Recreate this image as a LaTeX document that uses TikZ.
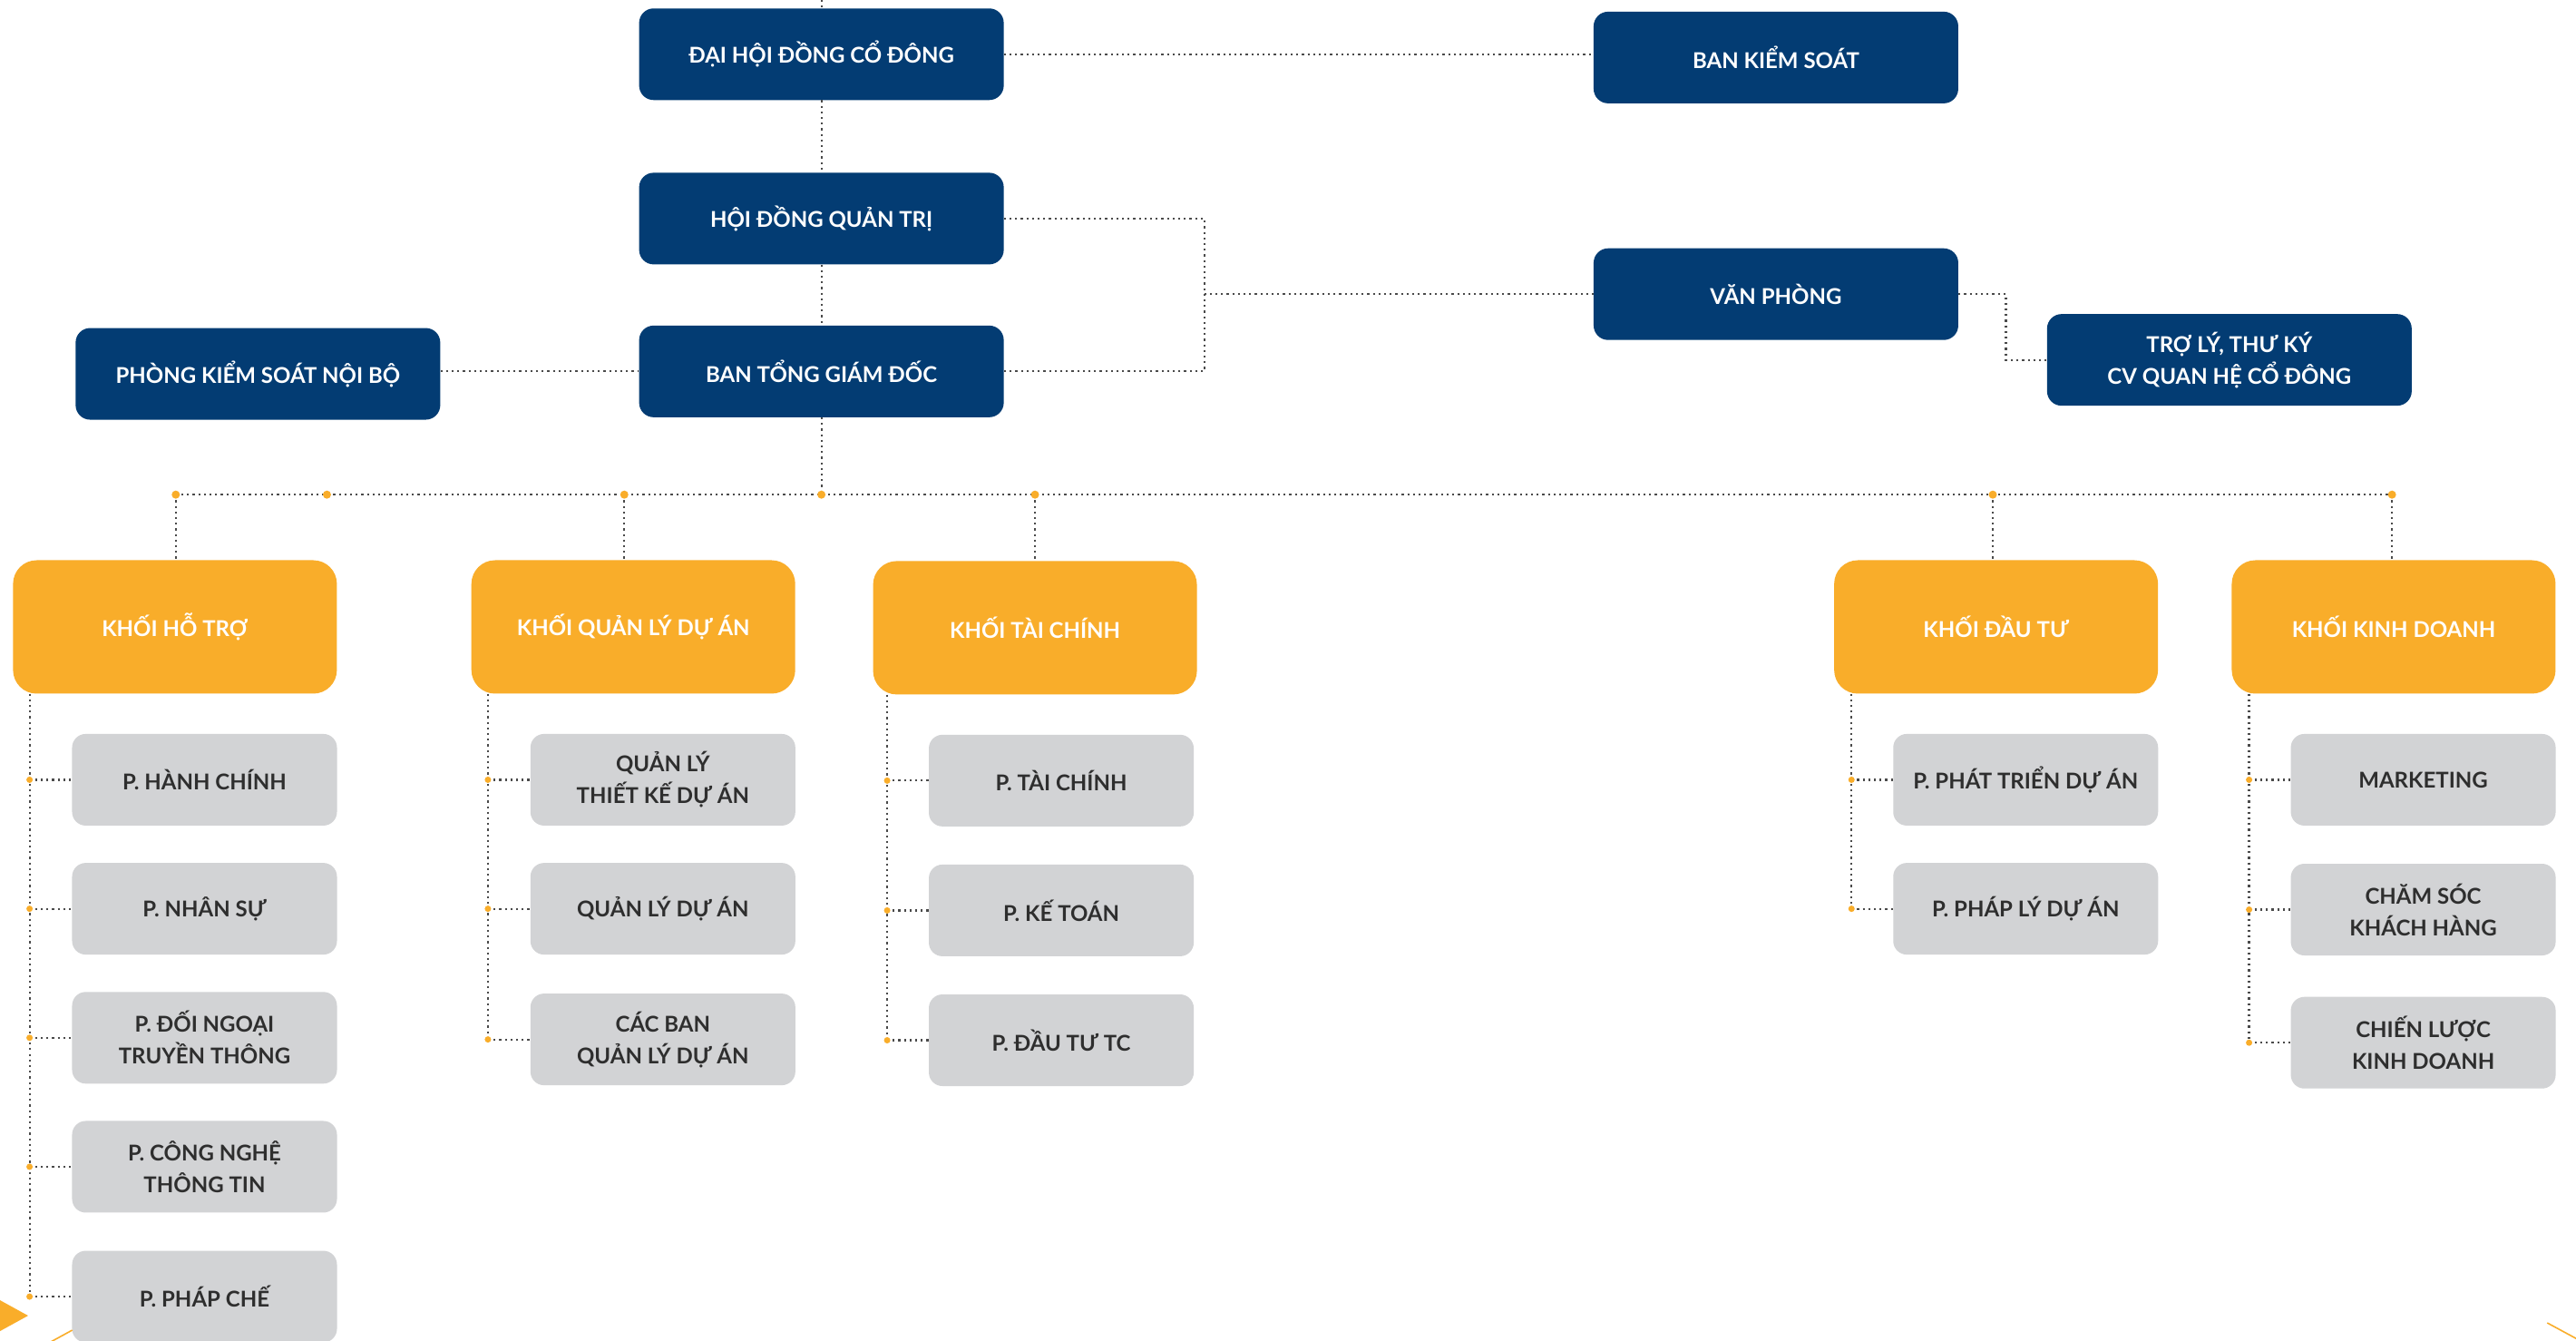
\documentclass[tikz,border=0pt]{standalone}
\usepackage{fontspec}
\setmainfont{Lato}
\definecolor{navy}{HTML}{033C73}
\definecolor{orng}{HTML}{F9AD2A}
\definecolor{lgray}{HTML}{D2D3D5}
\definecolor{dtext}{HTML}{2E2E2E}
\definecolor{lcol}{HTML}{4A4A4A}
\begin{document}
\begin{tikzpicture}[x=1.8112pt,y=-1.8112pt,
 txt/.style={align=center, font=\fontsize{24}{35}\selectfont\bfseries, inner sep=0pt},
 navybox/.style={txt, fill=navy, text=white, rounded corners=16pt, minimum width=402pt, minimum height=101pt},
 orangebox/.style={txt, fill=orng, text=white, rounded corners=26pt, minimum width=357pt, minimum height=147pt},
 graybox/.style={txt, fill=lgray, text=dtext, rounded corners=15pt, minimum width=292pt, minimum height=101pt},
 link/.style={draw=lcol, line width=2.2pt, dash pattern=on 2.2pt off 4pt},
 odot/.style={circle, fill=orng, minimum size=9pt, inner sep=0pt}]
\useasboundingbox (0,0) rectangle (1568,816);
\fill[white] (0,0) rectangle (1568,816);

% navy boxes
\node[navybox] (dh) at (500,33) {ĐẠI HỘI ĐỒNG CỔ ĐÔNG};
\node[navybox] (bks) at (1081,35) {BAN KIỂM SOÁT};
\node[navybox] (hd) at (500,133) {HỘI ĐỒNG QUẢN TRỊ};
\node[navybox] (btgd) at (500,226) {BAN TỔNG GIÁM ĐỐC};
\node[navybox] (ksnb) at (157,227.5) {PHÒNG KIỂM SOÁT NỘI BỘ};
\node[navybox] (vp) at (1081,179) {VĂN PHÒNG};
\node[navybox] (tl) at (1357,219) {TRỢ LÝ, THƯ KÝ\\CV QUAN HỆ CỔ ĐÔNG};

% orange boxes
\node[orangebox] (k1) at (106.5,381.5) {KHỐI HỖ TRỢ};
\node[orangebox] (k2) at (385.5,381.5) {KHỐI QUẢN LÝ DỰ ÁN};
\node[orangebox] (k3) at (630,382) {KHỐI TÀI CHÍNH};
\node[orangebox] (k4) at (1215,381.5) {KHỐI ĐẦU TƯ};
\node[orangebox] (k5) at (1457,381.5) {KHỐI KINH DOANH};

% gray boxes
\node[graybox] (g11) at (124.5,474.5) {P. HÀNH CHÍNH};
\node[graybox] (g12) at (124.5,553) {P. NHÂN SỰ};
\node[graybox] (g13) at (124.5,631.5) {P. ĐỐI NGOẠI\\TRUYỀN THÔNG};
\node[graybox] (g14) at (124.5,710) {P. CÔNG NGHỆ\\THÔNG TIN};
\node[graybox] (g15) at (124.5,789) {P. PHÁP CHẾ};

\node[graybox] (g21) at (403.5,474.5) {QUẢN LÝ\\THIẾT KẾ DỰ ÁN};
\node[graybox] (g22) at (403.5,553) {QUẢN LÝ DỰ ÁN};
\node[graybox] (g23) at (403.5,632.5) {CÁC BAN\\QUẢN LÝ DỰ ÁN};

\node[graybox] (g31) at (646,475) {P. TÀI CHÍNH};
\node[graybox] (g32) at (646,554) {P. KẾ TOÁN};
\node[graybox] (g33) at (646,633) {P. ĐẦU TƯ TC};

\node[graybox] (g41) at (1233,474.5) {P. PHÁT TRIỂN DỰ ÁN};
\node[graybox] (g42) at (1233,553) {P. PHÁP LÝ DỰ ÁN};

\node[graybox] (g51) at (1475,474.5) {MARKETING};
\node[graybox] (g52) at (1475,553.5) {CHĂM SÓC\\KHÁCH HÀNG};
\node[graybox] (g53) at (1475,634.5) {CHIẾN LƯỢC\\KINH DOANH};

% top connectors
\coordinate (top) at (500,0);
\draw[link] (top) -- (dh.north);
\draw[link] (dh.south) -- (hd.north);
\draw[link] (hd.south) -- (btgd.north);
\draw[link] (dh.east) -- (dh.east -| bks.west);
\draw[link] (ksnb.east |- btgd.west) -- (btgd.west);
\coordinate (jx) at (733,0);
\draw[link] (hd.east) -- (hd.east -| jx) -- (btgd.east -| jx) -- (btgd.east);
\draw[link] (vp.west -| jx) -- (vp.west);
\coordinate (jy) at (1221,0);
\draw[link] (vp.east) -- (vp.east -| jy) -- (tl.west -| jy) -- (tl.west);

% bus
\coordinate (b1) at (107,301);
\coordinate (b2) at (199,301);
\coordinate (b3) at (380,301);
\coordinate (b4) at (500,301);
\coordinate (b5) at (630,301);
\coordinate (b6) at (1213,301);
\coordinate (b7) at (1456,301);
\draw[link] (btgd.south) -- (b4);
\draw[link] (b1) -- (b7);
\draw[link] (b1) -- (b1 |- k1.north);
\draw[link] (b3) -- (b3 |- k2.north);
\draw[link] (b5) -- (b5 |- k3.north);
\draw[link] (b6) -- (b6 |- k4.north);
\draw[link] (b7) -- (b7 |- k5.north);
\foreach \b in {b1,b2,b3,b4,b5,b6,b7} \node[odot] at (\b) {};

% column connectors
\coordinate (v1) at (18,0);
\coordinate (v2) at (297,0);
\coordinate (v3) at (540,0);
\coordinate (v4) at (1127,0);
\coordinate (v5) at (1369,0);
\draw[link] (v1 |- k1.south) -- (v1 |- g15.west);
\draw[link] (v2 |- k2.south) -- (v2 |- g23.west);
\draw[link] (v3 |- k3.south) -- (v3 |- g33.west);
\draw[link] (v4 |- k4.south) -- (v4 |- g42.west);
\draw[link] (v5 |- k5.south) -- (v5 |- g53.west);
\foreach \v/\g in {v1/g11,v1/g12,v1/g13,v1/g14,v1/g15,v2/g21,v2/g22,v2/g23,v3/g31,v3/g32,v3/g33,v4/g41,v4/g42,v5/g51,v5/g52,v5/g53}{
  \draw[link] (\v |- \g.west) -- (\g.west);
  \node[odot, minimum size=7pt] at (\v |- \g.west) {};
}

% decoration
\fill[orng] (0,791.2) -- (17.1,800.6) -- (0,810) -- cycle;
\draw[orng, line width=1.6pt] (44,809.4) -- (31,816.5);
\draw[orng, line width=1.6pt] (1550.5,805) -- (1569,815);
\end{tikzpicture}
\end{document}
